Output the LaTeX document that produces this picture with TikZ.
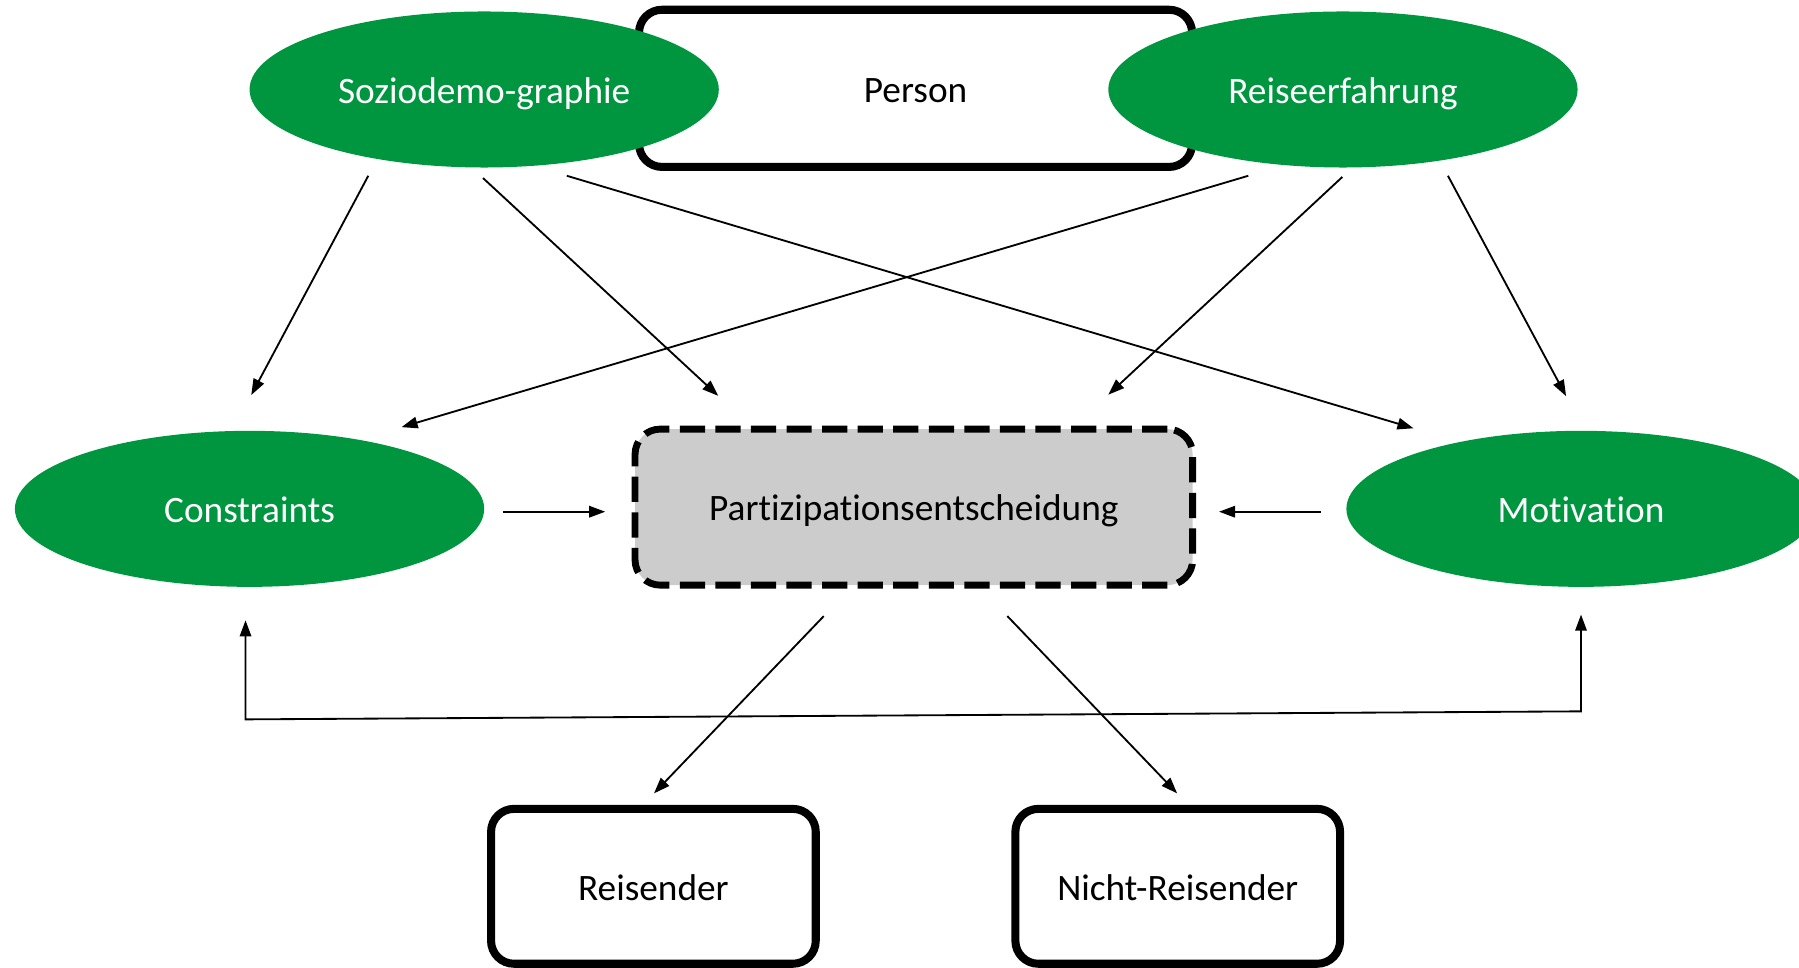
\documentclass[tikz,border=0pt]{standalone}
\usepackage{fontspec}
\setmainfont{Carlito}[RawFeature=-liga]
\usetikzlibrary{arrows.meta,shapes.geometric}
\definecolor{grn}{RGB}{0,150,64}
\definecolor{gry}{RGB}{204,204,204}
\begin{document}
\begin{tikzpicture}[x=1pt,y=-1pt,
 lbl/.style={font=\fontsize{32.5}{39}\selectfont, text height=27pt, text depth=3pt},
 oval/.style={ellipse, fill=grn, text=white, minimum width=409pt, minimum height=136pt, inner sep=0pt, lbl},
 box/.style={rectangle, rounded corners=20pt, draw, line width=7pt, fill=white, minimum width=283pt, minimum height=135pt, inner sep=0pt, lbl},
 dbox/.style={rectangle, rounded corners=22pt, draw, line width=6pt, dash pattern=on 22pt off 9pt, fill=gry, minimum width=486pt, minimum height=136pt, inner sep=0pt, lbl},
 arr/.style={-{Triangle[length=14pt,width=10pt]}, line width=1.6pt},
 darr/.style={{Triangle[length=14pt,width=10pt]}-{Triangle[length=14pt,width=10pt]}, line width=1.6pt}]
\useasboundingbox (0,0) rectangle (1568,843);
% nodes
\node[box, minimum width=482pt, minimum height=137pt] (person) at (798,77) {Person};
\node[oval] (soz) at (422,78) {Soziodemo-graphie};
\node[oval] (rei) at (1170.5,78) {Reiseerfahrung};
\node[oval] (con) at (217.5,443.5) {Constraints};
\node[oval] (mot) at (1378,443.5) {Motivation};
\node[dbox] (part) at (796.5,442) {Partizipationsentscheidung};
\node[box] (reis) at (569.5,772.5) {Reisender};
\node[box] (nicht) at (1026.5,772.5) {Nicht-Reisender};
% connectors
\draw[arr] ([shift={(-101,7)}]soz.south) -- ([shift={(1.5,-31)}]con.north);
\draw[arr] ([shift={(-1,9)}]soz.south) -- ([shift={(-170.5,-26)}]part.north);
\draw[arr] ([shift={(72,7)}]soz.south) -- ([shift={(-146,-2)}]mot.north);
\draw[arr] ([shift={(-82.5,7)}]rei.south) -- ([shift={(132.5,-3)}]con.north);
\draw[arr] ([shift={(-0.5,8)}]rei.south) -- ([shift={(169.5,-27)}]part.north);
\draw[arr] ([shift={(91.5,7)}]rei.south) -- ([shift={(-13,-30)}]mot.north);
\draw[arr] ([shift={(16,2.5)}]con.east) -- ([shift={(-23,4)}]part.west);
\draw[arr] ([shift={(-22,2.5)}]mot.west) -- ([shift={(20,4)}]part.east);
\draw[arr] ([shift={(-78.5,24)}]part.south) -- ([shift={(0.5,-10)}]reis.north);
\draw[arr] ([shift={(81.5,24)}]part.south) -- ([shift={(-0.5,-10)}]nicht.north);
\coordinate (fbL) at (214,627);
\coordinate (fbR) at (1378,620);
\draw[darr] ([shift={(-3.5,29)}]con.south) -- (fbL) -- (fbR) -- ([shift={(0,24)}]mot.south);
\end{tikzpicture}
\end{document}
